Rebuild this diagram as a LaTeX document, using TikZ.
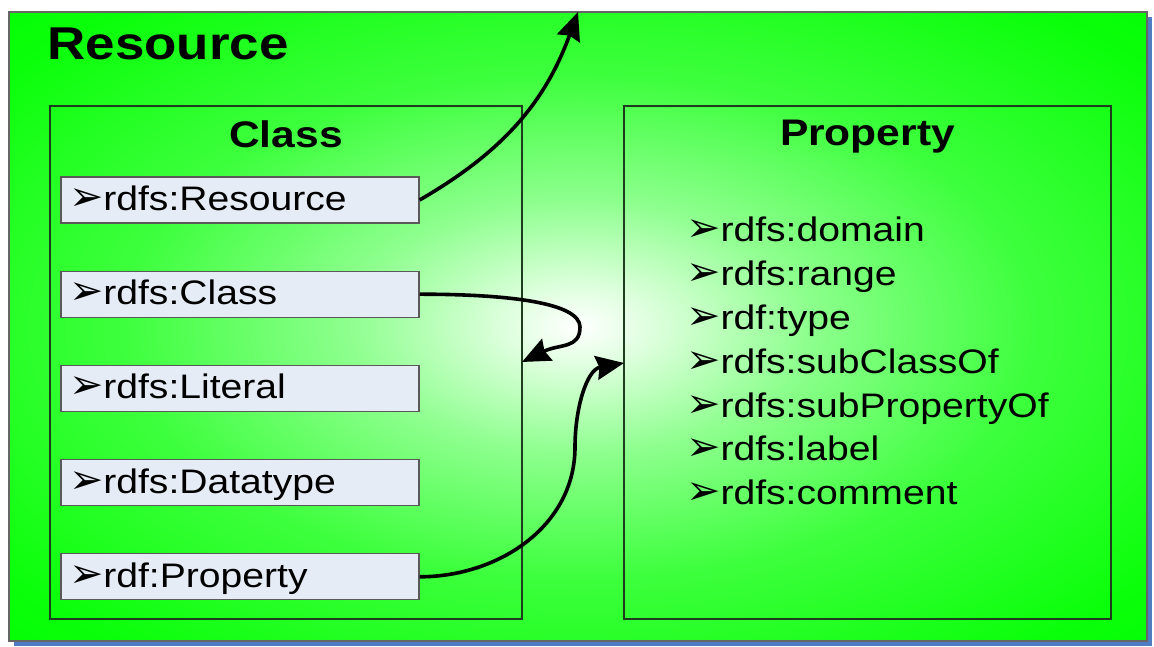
\documentclass[tikz,border=0pt]{standalone}
\usepackage{fontspec}
\setmainfont[FakeStretch=1.15]{Liberation Sans}
\newfontfamily\dingfont{DejaVu Sans}
\usetikzlibrary{shapes,arrows.meta,positioning,shadows}

\definecolor{resgreen}{RGB}{0,255,0}
\definecolor{shadowblue}{RGB}{79,125,195}
\definecolor{itemfill}{RGB}{230,236,246}
\definecolor{boxline}{RGB}{30,60,30}
\pgfdeclareradialshading{glow}{\pgfpoint{0bp}{0bp}}{color(0bp)=(white); color(3bp)=(white!88!resgreen); color(10bp)=(white!56!resgreen); color(20bp)=(white!24!resgreen); color(32bp)=(white!4!resgreen); color(38bp)=(resgreen); color(50bp)=(resgreen)}

\newcommand{\bul}{{\dingfont\fontsize{41}{41}\selectfont ➢}}

\begin{document}
\begin{tikzpicture}[x=1pt, y=1pt, >={Stealth[length=28pt,width=24pt,inset=3pt]},
node distance = 47pt,
item/.style={draw=black!65, line width=1.2pt, fill=itemfill, text width=342pt, align=left,
  inner xsep=8pt, inner ysep=0pt, minimum height=46pt, text height=24pt, text depth=3pt,
  font=\fontsize{34}{36}\selectfont},
plist/.style={anchor=base west, inner sep=0pt, font=\fontsize{34}{36}\selectfont},
title/.style={inner sep=0pt, font=\bfseries\fontsize{37}{40}\selectfont},
group/.style={draw=boxline, line width=1.2pt, inner sep=0pt},
link/.style={->, line width=3.6pt}]

\useasboundingbox (0,0) rectangle (1154,647);

% outer box with the glow
\node [draw=black!60, line width=1.2pt, shading=glow, minimum width=1138pt, minimum height=629pt,
  inner sep=0pt, drop shadow={shadow xshift=5pt, shadow yshift=-5pt, fill=shadowblue, opacity=1}]
  (resource) at (578,320.5) {};
\node [inner sep=0pt, font=\bfseries\fontsize{46}{50}\selectfont] (restitle)
  [below right=16pt and 39pt of resource.north west] {Resource};

\node [group, minimum width=472pt, minimum height=513pt] (classbox) at (286,284.5) {};
\node [title] (classtitle) [below=15pt of classbox.north] {Class};
\node [group, minimum width=487pt, minimum height=513pt] (propbox) at (867.5,284.5) {};
\node [title] (proptitle) [below=14pt of propbox.north] {Property};

% class items
\node [item] (res) [below right=71pt and 11pt of classbox.north west] {\bul rdfs:Resource};
\node [item] (cls) [below=of res] {\bul rdfs:Class};
\node [item] (lit) [below=of cls] {\bul rdfs:Literal};
\node [item] (dtp) [below=of lit] {\bul rdfs:Datatype};
\node [item] (prp) [below=of dtp] {\bul rdf:Property};

% property items
\node [plist] (dom) at (686,405) {\bul rdfs:domain};
\node [below=43.8pt of dom.base west, plist] (rng) {\bul rdfs:range};
\node [below=43.8pt of rng.base west, plist] (typ) {\bul rdf:type};
\node [below=43.8pt of typ.base west, plist] (sco) {\bul rdfs:subClassOf};
\node [below=43.8pt of sco.base west, plist] (spo) {\bul rdfs:subPropertyOf};
\node [below=43.8pt of spo.base west, plist] (lab) {\bul rdfs:label};
\node [below=43.8pt of lab.base west, plist] (com) {\bul rdfs:comment};

% links
\coordinate (restop) at (578,635);
\coordinate (clsin) at (522,285);
\coordinate (prpin) at (624,284);
\draw [link] (res.east) to [out=30, in=-110] (restop);
\draw [link] (cls.east) .. controls +(90,0) and +(0,24) .. (580,320)
  .. controls +(0,-22) and +(26:42) .. (clsin);
\draw [link] (prp.east) to [out=0, in=-90] (575,200) to [out=90, in=190] (prpin);

\end{tikzpicture}
\end{document}
